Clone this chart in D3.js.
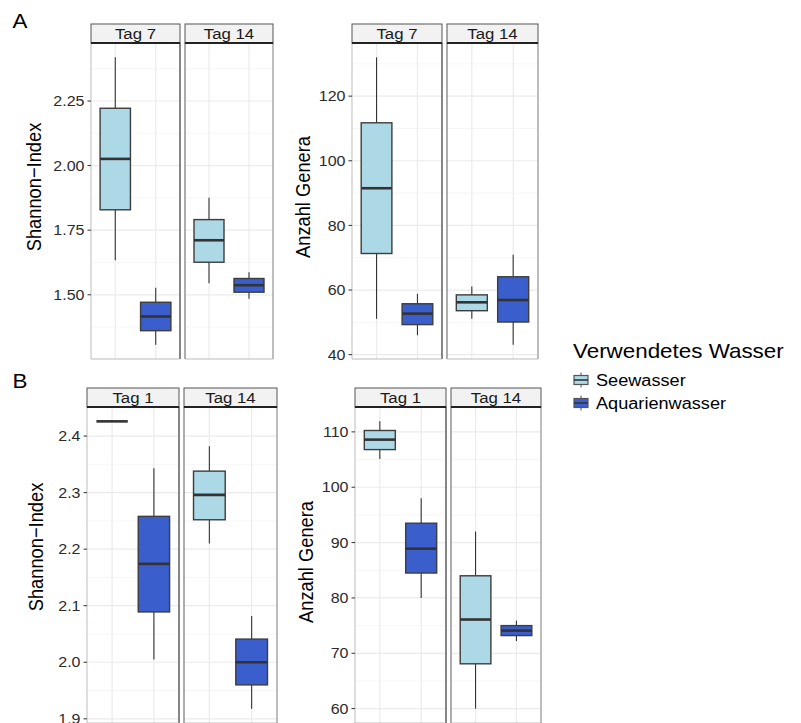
<!DOCTYPE html>
<html>
<head>
<meta charset="utf-8">
<script src="https://cdn.jsdelivr.net/npm/d3@7"></script>
<style>
  html, body { margin: 0; padding: 0; background: #fff; }
  svg { display: block; font-family: "Liberation Sans", Arial, Helvetica, sans-serif; }
</style>
</head>
<body>
<svg id="chart" width="801" height="723"></svg>
<script>
// ---- data -------------------------------------------------------------
const waters = ["Seewasser", "Aquarienwasser"];
const daysA = ["Tag 7", "Tag 14"];
const daysB = ["Tag 1", "Tag 14"];

// five-number summaries [lower whisker, Q1, median, Q3, upper whisker]
// row order: day 1 / Seewasser, day 1 / Aquarienwasser, day 2 / Seewasser, day 2 / Aquarienwasser
const shannonA = [
  [1.634, 1.829, 2.026, 2.222, 2.419],
  [1.307, 1.361, 1.416, 1.471, 1.527],
  [1.545, 1.626, 1.711, 1.791, 1.876],
  [1.485, 1.510, 1.537, 1.563, 1.587]
];
const generaA = [
  [51.1, 71.3, 91.5, 111.75, 132.0],
  [46.0, 49.3, 52.7, 55.75, 58.8],
  [51.1, 53.6, 56.2, 58.5, 61.1],
  [43.1, 50.1, 56.9, 64.1, 70.9]
];
const shannonB = [
  [2.426, 2.426, 2.426, 2.426, 2.426],
  [2.005, 2.089, 2.174, 2.258, 2.343],
  [2.210, 2.252, 2.296, 2.338, 2.382],
  [1.918, 1.960, 2.000, 2.041, 2.082]
];
const generaB = [
  [105.1, 106.8, 108.6, 110.25, 111.9],
  [80.0, 84.5, 88.9, 93.5, 98.0],
  [60.0, 68.1, 76.1, 84.0, 92.0],
  [72.2, 73.2, 74.1, 75.0, 75.9]
];

const ticksShannonA = [1.50, 1.75, 2.00, 2.25];
const ticksGeneraA = [40, 60, 80, 100, 120];
const ticksShannonB = [1.9, 2.0, 2.1, 2.2, 2.3, 2.4];
const ticksGeneraB = [60, 70, 80, 90, 100, 110];

// ---- styling ----------------------------------------------------------
const fills = ["#add8e6", "#3a5fcd"];
const SX = 1.12;              // horizontal glyph stretch
const ink = "#333333";

const svg = d3.select("#chart");
svg.append("rect").attr("width", 801).attr("height", 723).attr("fill", "#fff");

function stretchedText(g, x, y, str, o) {
  const t = g.append("text")
    .attr("transform", `translate(${x},${y}) scale(${SX},1)` + (o.rotate ? ` rotate(${o.rotate})` : ""))
    .attr("font-size", o.size)
    .attr("fill", o.fill || "#000")
    .attr("text-anchor", o.anchor || "start")
    .text(str);
  if (o.dy) t.attr("dy", o.dy);
  return t;
}

function drawPlot(cfg) {
  const g = svg.append("g");
  const all = cfg.data.flat();
  const [lo, hi] = d3.extent(all);
  const pad = (hi - lo) * 0.05;
  const y = d3.scaleLinear().domain([lo - pad, hi + pad]).range([cfg.bottom, cfg.top]);
  const fmt = cfg.fmt;
  const step = cfg.ticks[1] - cfg.ticks[0];
  const minor = [cfg.ticks[0] - step / 2, ...cfg.ticks.map(t => t + step / 2)]
    .filter(v => v > y.domain()[0] && v < y.domain()[1]);

  cfg.facets.forEach((fx, fi) => {
    const [x0, x1] = fx;
    const x = d3.scalePoint().domain(waters).range([x0, x1]).padding(0.6);
    const bw = x.step() * 0.75;
    const fg = g.append("g");

    // grid
    fg.selectAll(".minor").data(minor).join("line")
      .attr("x1", x0).attr("x2", x1)
      .attr("y1", d => y(d)).attr("y2", d => y(d))
      .attr("stroke", "#f4f4f4").attr("stroke-width", 0.8);
    fg.selectAll(".major").data(cfg.ticks).join("line")
      .attr("x1", x0).attr("x2", x1)
      .attr("y1", d => y(d)).attr("y2", d => y(d))
      .attr("stroke", "#ebebeb").attr("stroke-width", 1.2);
    fg.selectAll(".vgrid").data(waters).join("line")
      .attr("x1", d => x(d)).attr("x2", d => x(d))
      .attr("y1", cfg.top).attr("y2", cfg.bottom)
      .attr("stroke", "#ebebeb").attr("stroke-width", 1.2);

    // boxes
    waters.forEach((w, wi) => {
      const s = cfg.data[fi * 2 + wi];
      const cx = x(w);
      fg.append("line").attr("x1", cx).attr("x2", cx)
        .attr("y1", y(s[0])).attr("y2", y(s[1]))
        .attr("stroke", ink).attr("stroke-width", 1.1);
      fg.append("line").attr("x1", cx).attr("x2", cx)
        .attr("y1", y(s[3])).attr("y2", y(s[4]))
        .attr("stroke", ink).attr("stroke-width", 1.1);
      fg.append("rect")
        .attr("x", cx - bw / 2).attr("y", y(s[3]))
        .attr("width", bw).attr("height", Math.max(0, y(s[1]) - y(s[3])))
        .attr("fill", fills[wi]).attr("stroke", "#3d3d3d").attr("stroke-width", 1.4);
      fg.append("line").attr("x1", cx - bw / 2).attr("x2", cx + bw / 2)
        .attr("y1", y(s[2])).attr("y2", y(s[2]))
        .attr("stroke", ink).attr("stroke-width", 2.6);
    });

    // panel border
    const leftCol = fi === 0 ? "#c8c8c8" : "#777";
    const rightCol = fi === 0 ? "#444" : "#9a9a9a";
    fg.append("line").attr("x1", x0).attr("x2", x0).attr("y1", cfg.top).attr("y2", cfg.bottom)
      .attr("stroke", leftCol).attr("stroke-width", 1.2);
    fg.append("line").attr("x1", x1).attr("x2", x1).attr("y1", cfg.top).attr("y2", cfg.bottom)
      .attr("stroke", rightCol).attr("stroke-width", 1.3);
    fg.append("line").attr("x1", x0).attr("x2", x1).attr("y1", cfg.bottom).attr("y2", cfg.bottom)
      .attr("stroke", "#bbb").attr("stroke-width", 1.2);

    // strip
    fg.append("rect").attr("x", x0).attr("y", cfg.stripTop)
      .attr("width", x1 - x0).attr("height", cfg.top - cfg.stripTop)
      .attr("fill", "#f2f2f2").attr("stroke", "#555").attr("stroke-width", 1);
    fg.append("line").attr("x1", x0).attr("x2", x1).attr("y1", cfg.top).attr("y2", cfg.top)
      .attr("stroke", "#222").attr("stroke-width", 2);
    stretchedText(fg, (x0 + x1) / 2, (cfg.stripTop + cfg.top) / 2 + 5.3, cfg.days[fi],
      { size: 15, anchor: "middle", fill: "#1a1a1a" });
  });

  // y axis
  const px = cfg.facets[0][0];
  const ag = g.append("g");
  ag.selectAll("line").data(cfg.ticks).join("line")
    .attr("x1", px - 3.5).attr("x2", px)
    .attr("y1", d => y(d)).attr("y2", d => y(d))
    .attr("stroke", ink).attr("stroke-width", 1);
  cfg.ticks.forEach(t => {
    stretchedText(ag, px - 6.5, y(t), fmt(t), { size: 14.3, anchor: "end", fill: "#2b2b2b", dy: "0.36em" });
  });
  stretchedText(ag, cfg.titleX, cfg.titleY, cfg.title, { size: 18.3, anchor: "middle", rotate: -90 });
}

drawPlot({
  data: shannonA, days: daysA, ticks: ticksShannonA, fmt: d3.format(".2f"),
  facets: [[91, 180], [185, 273]], stripTop: 24, top: 43, bottom: 359,
  title: "Shannon\u2212Index", titleX: 41, titleY: 187
});
drawPlot({
  data: generaA, days: daysA, ticks: ticksGeneraA, fmt: d3.format("d"),
  facets: [[352, 442], [447, 538]], stripTop: 24, top: 43, bottom: 359,
  title: "Anzahl Genera", titleX: 310, titleY: 197
});
drawPlot({
  data: shannonB, days: daysB, ticks: ticksShannonB, fmt: d3.format(".1f"),
  facets: [[87, 179], [184, 277]], stripTop: 388, top: 407, bottom: 723,
  title: "Shannon\u2212Index", titleX: 43, titleY: 547
});
drawPlot({
  data: generaB, days: daysB, ticks: ticksGeneraB, fmt: d3.format("d"),
  facets: [[355, 446], [451, 541]], stripTop: 388, top: 407, bottom: 723,
  title: "Anzahl Genera", titleX: 313, titleY: 562
});

// panel tags
stretchedText(svg, 12.5, 27.5, "A", { size: 20 });
stretchedText(svg, 12.5, 388, "B", { size: 20 });

// legend
const lg = svg.append("g");
stretchedText(lg, 573, 357.5, "Verwendetes Wasser", { size: 20 });
const keyY = [380, 403];
waters.forEach((w, i) => {
  const cy = keyY[i];
  const kx0 = 574, kx1 = 588, kc = (kx0 + kx1) / 2;
  lg.append("line").attr("x1", kc).attr("x2", kc).attr("y1", cy - 7.5).attr("y2", cy + 7.5)
    .attr("stroke", "#555").attr("stroke-width", 1);
  lg.append("rect").attr("x", kx0).attr("y", cy - 4.5).attr("width", kx1 - kx0).attr("height", 9)
    .attr("fill", fills[i]).attr("stroke", "#555").attr("stroke-width", 1.2);
  lg.append("line").attr("x1", kx0).attr("x2", kx1).attr("y1", cy).attr("y2", cy)
    .attr("stroke", "#333").attr("stroke-width", 1.6);
  stretchedText(lg, 596, cy + 5.6, w, { size: 16.2 });
});
</script>
</body>
</html>
